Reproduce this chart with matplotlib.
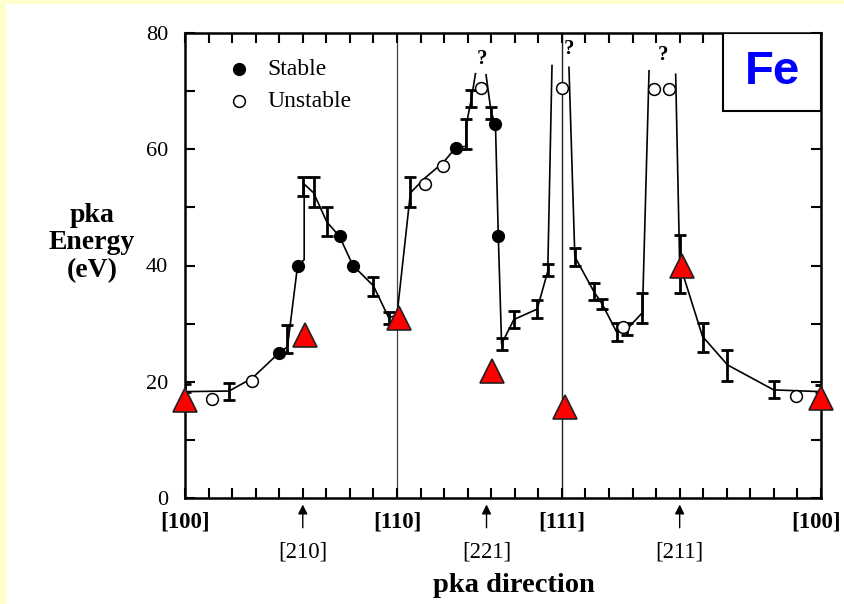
import matplotlib
matplotlib.use('Agg')
import matplotlib.pyplot as plt
from matplotlib.patches import Rectangle
import numpy as np

# x in tick units along the pka direction path ([100]=0, [110]=9, [111]=16, [100]=27)
# curve pieces (the curve breaks near the unstable peaks)
seg1_x = [0, 1.87, 2.85, 4.0, 4.35, 4.78, 5.06, 5.06, 5.46, 6.02, 6.56, 7.13, 8.0, 8.65, 9.0,
          9.57, 10.17, 10.96, 11.5, 11.93, 11.93, 12.16, 12.33]
seg1_y = [18.3, 18.4, 20.6, 25.0, 26.0, 40.0, 41.0, 54.0, 52.5, 47.5, 45.0, 40.0, 36.5, 31.0, 31.5,
          52.5, 55.0, 57.7, 60.3, 60.5, 64.0, 68.7, 73.0]
seg2_x = [12.78, 13.0, 13.18, 13.3, 13.44, 13.96, 14.95, 15.4, 15.58]
seg2_y = [72.8, 66.3, 64.3, 45.1, 26.5, 30.7, 32.5, 39.0, 74.4]
seg3_x = [16.3, 16.55, 17.36, 17.72, 18.33, 18.78, 19.42, 19.7]
seg3_y = [74.1, 41.5, 35.5, 33.3, 28.5, 29.1, 31.9, 73.5]
seg4_x = [20.83, 21.0, 21.97, 23.03, 24.99, 27.0]
seg4_y = [72.9, 40.3, 27.8, 22.9, 18.6, 18.3]

# error bars: position, low, high
err_x = [0.0, 1.87, 4.35, 5.0, 5.46, 6.02, 8.0, 8.65, 9.57, 11.93, 12.16, 13.0,
         13.44, 13.96, 14.95, 15.4, 16.55, 17.36, 17.72, 18.33, 18.78, 19.42,
         21.0, 21.97, 23.03, 24.99, 27.0]
err_lo = [18.3, 16.9, 25.0, 51.9, 50.0, 45.0, 34.8, 30.0, 50.0, 60.0, 67.3, 65.2,
          25.5, 29.3, 31.0, 38.2, 39.9, 34.1, 32.5, 27.0, 28.1, 30.1,
          35.3, 25.2, 20.1, 17.2, 18.3]
err_hi = [19.6, 19.8, 29.8, 55.2, 55.2, 50.0, 38.1, 32.0, 55.2, 65.2, 70.2, 67.3,
          27.5, 32.1, 34.1, 40.2, 43.0, 37.0, 34.2, 30.1, 30.1, 35.3,
          45.3, 30.1, 25.4, 20.1, 19.5]

stable_x = [4.0, 4.78, 6.56, 7.13, 11.5, 13.18, 13.3]
stable_y = [25.0, 40.0, 45.0, 40.0, 60.3, 64.3, 45.1]
unstable_x = [1.15, 2.85, 10.17, 10.96, 12.57, 16.0, 19.91, 20.55, 18.6, 25.94]
unstable_y = [17.1, 20.2, 54.1, 57.2, 70.5, 70.5, 70.3, 70.3, 29.5, 17.5]

tri_x = [0, 5.1, 9.1, 13.04, 16.13, 21.1, 27.0]
tri_y = [16.8, 28.1, 31.0, 21.8, 15.7, 39.9, 17.2]

q_x = [12.6, 16.28, 20.27]
q_y = [75.6, 77.3, 76.2]

main_pos = [0, 9, 16, 27]
main_labels = ['[100]', '[110]', '[111]', '[100]']
arrow_pos = [5.0, 12.8, 21.0]
arrow_labels = ['[210]', '[221]', '[211]']

serif = 'Liberation Serif'

fig = plt.figure(figsize=(8.44, 6.04), dpi=100)
fig.patch.set_facecolor('#FFFFCC')
bg = Rectangle((6/844, 0), 1, 600/604, transform=fig.transFigure,
               facecolor='white', edgecolor='none', zorder=-10)
fig.add_artist(bg)
ax = fig.add_axes([185/844, 1-498/604, 636/844, 465/604])
ax.set_facecolor('white')

ax.axvline(9, color='#444444', lw=0.9, zorder=1)
ax.axvline(16, color='#222222', lw=1.0, zorder=1)

for sx, sy in [(seg1_x, seg1_y), (seg2_x, seg2_y), (seg3_x, seg3_y), (seg4_x, seg4_y)]:
    ax.plot(sx, sy, color='black', lw=1.2, zorder=2)

err_c = [(a + b) / 2 for a, b in zip(err_lo, err_hi)]
err_h = [(b - a) / 2 for a, b in zip(err_lo, err_hi)]
ax.errorbar(err_x, err_c, yerr=err_h, fmt='none', ecolor='black', elinewidth=2.0,
            capsize=4, capthick=2.0, zorder=3)

ax.plot(stable_x, stable_y, 'o', color='black', ms=8.5, zorder=4)
ax.plot(unstable_x, unstable_y, 'o', mfc='white', mec='black', mew=1.1, ms=8.5, zorder=4)
ax.plot(tri_x, tri_y, '^', mfc='#FF0000', mec='#222222', mew=1.2, ms=17, zorder=5,
        clip_on=False)

for qx, qy in zip(q_x, q_y):
    ax.text(qx, qy, '?', ha='center', va='center', fontsize=15, fontweight='bold',
            family=serif)

# legend
ax.plot([2.3], [73.8], 'o', color='black', ms=8.5)
ax.plot([2.3], [68.3], 'o', mfc='white', mec='black', mew=1.1, ms=8.5)
ax.text(3.5, 73.8, 'Stable', va='center', fontsize=17, family=serif)
ax.text(3.5, 68.3, 'Unstable', va='center', fontsize=17, family=serif)

# Fe box
ax.add_patch(Rectangle((0.846, 0.832), 0.154, 0.168, transform=ax.transAxes,
                       facecolor='white', edgecolor='black', lw=1.5, zorder=6))
ax.text(0.923, 0.916, 'Fe', transform=ax.transAxes, ha='center', va='center',
        fontsize=34, fontweight='bold', color='#0000FF', family='Liberation Sans', zorder=7)

ax.set_xlim(0, 27)
ax.set_ylim(0, 80)
ax.set_xticks(main_pos)
# last label drawn by hand, nudged left so it stays inside the picture
ax.set_xticklabels(main_labels[:-1] + [''], fontsize=16.5, fontweight='bold', family=serif)
ax.text(main_pos[-1] - 0.2, -0.030, main_labels[-1], transform=ax.get_xaxis_transform(),
        ha='center', va='top', fontsize=16.5, fontweight='bold', family=serif)
ax.set_xticks(np.arange(0, 28), minor=True)
ax.set_yticks([0, 20, 40, 60, 80])
ax.set_yticklabels(['0', '20', '40', '60', '80'], fontsize=16, family=serif)
ax.set_yticks([10, 30, 50, 70], minor=True)
ax.tick_params(which='both', direction='in', top=True, right=True, width=1.5)
ax.tick_params(which='major', length=7)
ax.tick_params(which='minor', length=7)
ax.tick_params(axis='x', pad=10)
ax.tick_params(axis='y', pad=12)
for sp in ax.spines.values():
    sp.set_linewidth(1.8)

for px, lab in zip(arrow_pos, arrow_labels):
    ax.annotate('', xy=(px, -0.008), xycoords=('data', 'axes fraction'),
                xytext=(px, -0.07), textcoords=('data', 'axes fraction'),
                arrowprops=dict(arrowstyle='-|>', color='black', lw=1, mutation_scale=14),
                annotation_clip=False)
    ax.text(px, -0.116, lab, transform=ax.get_xaxis_transform(), ha='center', va='center',
            fontsize=16.5, family=serif)

ax.text(0.517, -0.188, 'pka direction', transform=ax.transAxes, ha='center', va='center',
        fontsize=20.5, fontweight='bold', family=serif)
fig.text(92/844, 1-243/604, 'pka\nEnergy\n(eV)', ha='center', va='center',
         fontsize=20, fontweight='bold', family=serif, linespacing=1.15)

fig.savefig('out.png', dpi=100, facecolor=fig.get_facecolor())
